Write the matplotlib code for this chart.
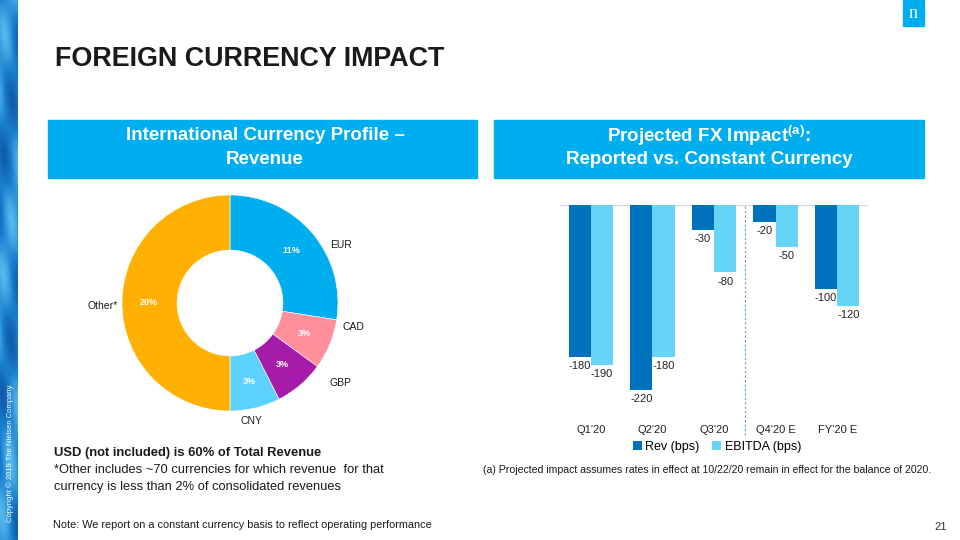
import matplotlib
matplotlib.use("Agg")
import matplotlib.pyplot as plt
import matplotlib.patches as mpatches
import numpy as np

plt.rcParams['font.family'] = ['Liberation Sans', 'DejaVu Sans']
plt.rcParams['mathtext.fontset'] = 'custom'
plt.rcParams['mathtext.bf'] = 'Liberation Sans:bold'
plt.rcParams['mathtext.rm'] = 'Liberation Sans'

################## Data ##################

# donut: international currency profile (% of total revenue)
currencies = ["EUR", "CAD", "GBP", "CNY", "Other*"]
shares = [11, 3, 3, 3, 20]
donut_colors = ["#00AEEF", "#FF8F9A", "#A51CAB", "#5ED2FF", "#FFB000"]

# bars: projected FX impact (bps)
periods = ["Q1'20", "Q2'20", "Q3'20", "Q4'20 E", "FY'20 E"]
rev_bps = [-180, -220, -30, -20, -100]
ebitda_bps = [-190, -180, -80, -50, -120]

BLUE = "#00ADEF"
REV_C = "#0071BC"
EBITDA_C = "#66D4F7"

################## Helpers (pixel -> figure coords) ##################

W, H = 960, 540
fig = plt.figure(figsize=(9.6, 5.4), dpi=100)
fig.patch.set_facecolor("white")

def box(x0, y0, x1, y1):
    return [x0 / W, 1 - y1 / H, (x1 - x0) / W, (y1 - y0) / H]

def fx(x):
    return x / W

def fy(y):
    return 1 - y / H

################## Decorative left strip ##################

ax_strip = fig.add_axes(box(0, 0, 18, 540))
yy, xx = np.mgrid[0:540, 0:18]
wave = 0.55 + 0.25 * np.sin(yy / 37.0 + xx / 6.0) + 0.15 * np.sin(yy / 13.0 - xx / 4.0)
ax_strip.imshow(wave, cmap=matplotlib.colors.LinearSegmentedColormap.from_list(
    "strip", ["#0B4F9C", "#1A80D0", "#5BBDF0"]), aspect="auto", vmin=0, vmax=1)
ax_strip.axis("off")
fig.text(fx(10), fy(522), "Copyright \u00a9 2019 The Nielsen Company.", rotation=90,
         ha="center", va="bottom", fontsize=5.5, color="white")

################## Title, logo, headers ##################

fig.text(fx(55), fy(59), "FOREIGN CURRENCY IMPACT", fontsize=19.4, fontweight="bold",
         color="#1A1A1A", va="center", ha="left")

fig.patches.append(mpatches.Rectangle((fx(903), fy(26)), 21 / W, 26 / H,
                                      transform=fig.transFigure, color=BLUE))
fig.text(fx(913.5), fy(14), "n", family="Liberation Serif", fontsize=13, color="white",
         ha="center", va="center")

for x0, x1 in [(48, 477), (494, 924)]:
    fig.patches.append(mpatches.Rectangle((fx(x0), fy(178)), (x1 - x0) / W, 58 / H,
                                          transform=fig.transFigure, color=BLUE))

hdr = dict(fontsize=13.5, fontweight="bold", color="white", ha="center", va="center")
fig.text(fx(265), fy(136), "International Currency Profile \u2013", **hdr)
fig.text(fx(265), fy(160), "Revenue", **hdr)
fig.text(fx(709), fy(136), r"Projected FX Impact$^{\mathbf{(a)}}$:", **hdr)
fig.text(fx(709), fy(160), "Reported vs. Constant Currency", **hdr)

################## Donut ##################

ax_d = fig.add_axes(box(80, 153, 380, 453))
total = sum(shares)
wedges, _, pcts = ax_d.pie(shares, colors=donut_colors, startangle=90, counterclock=False,
                           radius=1.0, wedgeprops=dict(width=0.51, edgecolor="white", linewidth=0.4),
                           autopct=lambda p: "%d%%" % round(p * total / 100), pctdistance=0.75,
                           textprops=dict(color="white", fontsize=6.5, fontweight="bold"))
ax_d.set_xlim(-1.389, 1.389)
ax_d.set_ylim(-1.389, 1.389)
ax_d.set_aspect("equal")
ax_d.axis("off")

# outer labels (placed like the slide's best-fit labels)
label_pos = [(0.93, 0.54, "left"), (1.04, -0.22, "left"), (0.92, -0.74, "left"),
             (0.20, -1.09, "center"), (-1.04, -0.03, "right")]
for name, (lx, ly, ha) in zip(currencies, label_pos):
    ax_d.text(lx, ly, name, fontsize=7.5, color="#1A1A1A", ha=ha, va="center")

################## Bars ##################

ax_b = fig.add_axes(box(560, 205, 868, 418))
x = np.arange(len(periods))
bw = 0.36
b1 = ax_b.bar(x - bw / 2, rev_bps, bw, color=REV_C, label="Rev (bps)")
b2 = ax_b.bar(x + bw / 2, ebitda_bps, bw, color=EBITDA_C, label="EBITDA (bps)")
ax_b.bar_label(b1, padding=3, fontsize=8, color="#222222")
ax_b.bar_label(b2, padding=3, fontsize=8, color="#222222")
ax_b.set_xlim(-0.5, 4.5)
ax_b.set_ylim(-253, 0)
ax_b.axhline(0, color="#D9D9D9", linewidth=1, zorder=0)
ax_b.axvline(2.5, ymin=-0.08, ymax=1, color="#5B9BD5", linestyle=(0, (2, 2)),
             linewidth=0.8, clip_on=False)
ax_b.set_xticks(x)
ax_b.set_xticklabels(periods, fontsize=8, color="#222222")
ax_b.tick_params(axis="x", length=0, pad=5)
ax_b.set_yticks([])
for s in ax_b.spines.values():
    s.set_visible(False)
ax_b.patch.set_alpha(0)

fig.legend(handles=[b1, b2], labels=["Rev (bps)", "EBITDA (bps)"], loc="center",
           bbox_to_anchor=(fx(717), fy(447)), ncol=2, frameon=False, fontsize=9,
           handlelength=0.7, handleheight=0.7, handletextpad=0.3, columnspacing=1.0)

################## Notes ##################

fig.text(fx(54), fy(453), "USD (not included) is 60% of Total Revenue", fontsize=9.4,
         fontweight="bold", color="#1A1A1A", va="center")
fig.text(fx(54), fy(470), "*Other includes ~70 currencies for which revenue  for that",
         fontsize=9.3, color="#1A1A1A", va="center")
fig.text(fx(54), fy(487), "currency is less than 2% of consolidated revenues",
         fontsize=9.3, color="#1A1A1A", va="center")
fig.text(fx(483), fy(470), "(a) Projected impact assumes rates in effect at 10/22/20 remain in effect "
         "for the balance of 2020.", fontsize=7.6, color="#1A1A1A", va="center")
fig.text(fx(53), fy(525), "Note: We report on a constant currency basis to reflect operating performance",
         fontsize=7.8, color="#1A1A1A", va="center")
fig.text(fx(947), fy(527), "21", fontsize=8, color="#333333", ha="right", va="center")

fig.savefig("out.png", dpi=100)
